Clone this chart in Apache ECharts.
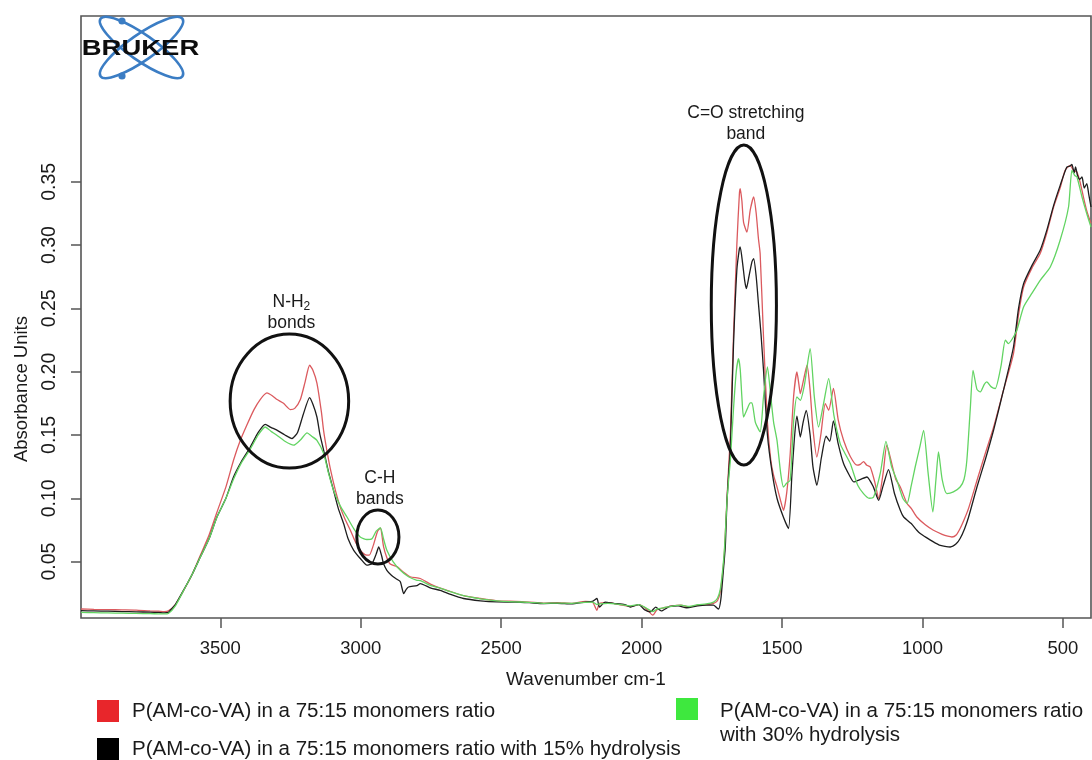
<!DOCTYPE html>
<html>
<head>
<meta charset="utf-8">
<title>FTIR spectra of P(AM-co-VA)</title>
<script src="https://cdn.jsdelivr.net/npm/echarts@6/dist/echarts.min.js"></script>
<style>
  html, body { margin: 0; padding: 0; background: #fff; }
  #chart { width: 1092px; height: 760px; }
</style>
</head>
<body>
<div id="chart"></div>
<script>
// Series names (legend entries)
const nameRed = 'P(AM-co-VA) in a 75:15 monomers ratio';
const nameBlack = 'P(AM-co-VA) in a 75:15 monomers ratio with 15% hydrolysis';
const nameGreen = 'P(AM-co-VA) in a 75:15 monomers ratio with 30% hydrolysis';

// Tick values
const wavenumberTicks = [3500, 3000, 2500, 2000, 1500, 1000, 500];
const absorbanceTicks = [0.05, 0.10, 0.15, 0.20, 0.25, 0.30, 0.35];

// Spectra: [wavenumber (cm-1), absorbance]
const spectrumRed = [
  [3996,0.0125],[3950,0.0122],[3900,0.0120],[3850,0.0118],[3800,0.0116],[3750,0.0110],[3720,0.0108],[3700,0.0105],
  [3685,0.0110],[3660,0.016],[3631,0.027],[3600,0.040],[3571,0.055],[3540,0.071],[3512,0.089],[3480,0.109],
  [3453,0.130],[3430,0.145],[3405,0.158],[3380,0.170],[3358,0.178],[3334,0.1832],[3315,0.181],[3298,0.178],
  [3275,0.175],[3251,0.1701],[3235,0.171],[3215,0.178],[3198,0.192],[3182,0.2051],[3170,0.201],[3156,0.191],
  [3140,0.168],[3132,0.153],[3120,0.137],[3108,0.123],[3090,0.106],[3073,0.093],[3055,0.083],[3037,0.0747],
  [3020,0.066],[3002,0.059],[2985,0.0555],[2970,0.055],[2955,0.063],[2940,0.074],[2930,0.0765],[2919,0.062],
  [2907,0.053],[2895,0.048],[2871,0.046],[2850,0.042],[2824,0.038],[2788,0.0366],[2750,0.032],[2717,0.029],
  [2693,0.0273],[2634,0.023],[2574,0.0208],[2515,0.019],[2450,0.0185],[2400,0.018],[2349,0.0172],[2300,0.0175],
  [2250,0.017],[2200,0.0185],[2175,0.018],[2159,0.0115],[2150,0.017],[2120,0.0175],[2080,0.016],[2040,0.0145],
  [2010,0.016],[1985,0.013],[1960,0.0076],[1945,0.012],[1920,0.0135],[1890,0.015],[1860,0.0155],[1830,0.014],
  [1800,0.0155],[1770,0.016],[1744,0.017],[1730,0.019],[1720,0.026],[1712,0.040],[1705,0.058],[1696,0.100],
  [1690,0.125],[1684,0.150],[1673,0.2274],[1661,0.300],[1652,0.340],[1649,0.3446],[1643,0.335],[1637,0.318],
  [1625,0.3103],[1613,0.328],[1601,0.338],[1592,0.325],[1584,0.305],[1578,0.2933],[1566,0.2274],[1552,0.160],
  [1540,0.130],[1530,0.118],[1518,0.109],[1505,0.098],[1495,0.0905],[1483,0.105],[1471,0.135],[1459,0.180],
  [1447,0.1998],[1440,0.190],[1435,0.1827],[1425,0.192],[1411,0.2051],[1400,0.185],[1390,0.155],[1376,0.1326],
  [1362,0.150],[1346,0.1748],[1334,0.1695],[1317,0.1867],[1300,0.162],[1281,0.1458],[1257,0.133],[1233,0.1261],
  [1220,0.127],[1210,0.129],[1198,0.126],[1186,0.1247],[1170,0.113],[1156,0.0998],[1140,0.120],[1127,0.1419],
  [1110,0.128],[1095,0.115],[1079,0.1089],[1055,0.0958],[1040,0.092],[1020,0.0852],[990,0.079],[961,0.0747],
  [930,0.0715],[910,0.070],[895,0.0694],[880,0.071],[866,0.0761],[850,0.084],[836,0.092],[806,0.114],
  [777,0.135],[747,0.156],[712,0.185],[676,0.2143],[658,0.245],[640,0.2669],[610,0.282],[581,0.2933],
  [557,0.310],[533,0.3301],[510,0.345],[492,0.3591],[474,0.363],[462,0.359],[450,0.3577],[438,0.349],
  [427,0.338],[415,0.327],[400,0.317]
];

const spectrumBlack = [
  [3996,0.0112],[3950,0.0110],[3900,0.0108],[3850,0.0105],[3800,0.0103],[3750,0.0100],[3720,0.0098],[3700,0.0095],
  [3685,0.0098],[3678,0.0115],[3660,0.016],[3631,0.0273],[3600,0.040],[3571,0.0536],[3540,0.068],[3512,0.0852],
  [3480,0.100],[3453,0.1168],[3425,0.129],[3393,0.1405],[3365,0.152],[3340,0.1584],[3320,0.156],[3300,0.154],
  [3270,0.150],[3245,0.1472],[3225,0.152],[3205,0.166],[3182,0.1795],[3170,0.174],[3156,0.1642],[3145,0.150],
  [3132,0.1379],[3115,0.121],[3097,0.1063],[3080,0.092],[3061,0.080],[3045,0.068],[3025,0.0589],[3000,0.052],
  [2978,0.0471],[2960,0.0484],[2945,0.056],[2936,0.0615],[2925,0.054],[2919,0.0484],[2907,0.0431],[2890,0.039],
  [2871,0.036],[2859,0.034],[2847,0.0247],[2838,0.028],[2830,0.0299],[2800,0.031],[2788,0.0326],[2750,0.029],
  [2717,0.0273],[2680,0.024],[2634,0.0208],[2574,0.019],[2515,0.0181],[2450,0.018],[2400,0.0175],[2349,0.0168],
  [2300,0.017],[2250,0.0165],[2200,0.018],[2175,0.0185],[2159,0.0208],[2150,0.014],[2130,0.018],[2100,0.017],
  [2060,0.016],[2040,0.0141],[2010,0.016],[1990,0.012],[1969,0.0102],[1950,0.014],[1930,0.011],[1900,0.0145],
  [1870,0.015],[1840,0.0135],[1800,0.015],[1770,0.0155],[1744,0.0155],[1735,0.014],[1726,0.0125],[1718,0.020],
  [1710,0.040],[1702,0.062],[1696,0.098],[1690,0.120],[1684,0.140],[1673,0.220],[1661,0.280],[1652,0.297],
  [1649,0.2985],[1640,0.285],[1633,0.272],[1627,0.2656],[1618,0.275],[1607,0.287],[1601,0.2893],[1592,0.275],
  [1584,0.2538],[1575,0.230],[1566,0.2011],[1552,0.150],[1535,0.120],[1518,0.100],[1495,0.085],[1477,0.0761],
  [1465,0.118],[1455,0.150],[1447,0.1648],[1440,0.155],[1435,0.1484],[1425,0.160],[1414,0.1695],[1400,0.150],
  [1390,0.125],[1376,0.1103],[1360,0.132],[1343,0.149],[1330,0.145],[1317,0.1611],[1300,0.143],[1281,0.1274],
  [1260,0.118],[1245,0.1129],[1220,0.115],[1198,0.1168],[1175,0.109],[1156,0.0984],[1140,0.110],[1121,0.1227],
  [1100,0.104],[1079,0.0905],[1067,0.0852],[1040,0.080],[1020,0.0747],[1008,0.0721],[990,0.0695],[961,0.0655],
  [940,0.063],[920,0.062],[901,0.0615],[880,0.064],[866,0.0682],[850,0.076],[836,0.085],[806,0.1089],
  [777,0.130],[747,0.1537],[712,0.185],[676,0.2195],[658,0.250],[640,0.2696],[610,0.284],[581,0.2959],
  [557,0.312],[533,0.3314],[510,0.347],[486,0.3617],[474,0.3625],[468,0.3638],[460,0.357],[455,0.3617],
  [448,0.355],[440,0.352],[432,0.3538],[424,0.345],[415,0.3486],[408,0.340],[400,0.3301]
];

const spectrumGreen = [
  [3996,0.0098],[3950,0.0096],[3900,0.0094],[3850,0.0092],[3800,0.0090],[3750,0.0088],[3720,0.0087],[3700,0.0086],
  [3685,0.0090],[3660,0.015],[3631,0.027],[3600,0.040],[3571,0.0536],[3540,0.068],[3512,0.085],[3480,0.100],
  [3453,0.115],[3425,0.128],[3393,0.139],[3365,0.150],[3340,0.1563],[3320,0.153],[3300,0.150],[3270,0.145],
  [3239,0.1419],[3215,0.146],[3191,0.1516],[3175,0.149],[3156,0.1458],[3132,0.1353],[3115,0.120],[3097,0.1063],
  [3073,0.094],[3049,0.0852],[3025,0.076],[3002,0.0694],[2978,0.0674],[2960,0.068],[2945,0.074],[2930,0.0765],
  [2919,0.068],[2907,0.0589],[2885,0.050],[2859,0.0431],[2830,0.038],[2800,0.0352],[2788,0.035],[2750,0.031],
  [2717,0.029],[2693,0.027],[2634,0.023],[2574,0.0205],[2515,0.019],[2450,0.0182],[2400,0.0178],[2349,0.017],
  [2300,0.0172],[2250,0.017],[2200,0.0178],[2175,0.018],[2159,0.016],[2150,0.0165],[2120,0.017],[2080,0.0162],
  [2040,0.015],[2010,0.016],[1985,0.0135],[1960,0.0105],[1945,0.0125],[1920,0.0135],[1890,0.0148],[1860,0.0155],
  [1830,0.0145],[1800,0.016],[1770,0.0165],[1744,0.018],[1730,0.021],[1720,0.028],[1712,0.042],[1705,0.060],
  [1696,0.098],[1690,0.115],[1684,0.130],[1673,0.170],[1663,0.200],[1655,0.2103],[1649,0.202],[1643,0.180],
  [1637,0.1642],[1625,0.170],[1613,0.1753],[1607,0.1753],[1595,0.160],[1578,0.1524],[1566,0.180],[1552,0.2037],
  [1540,0.180],[1530,0.160],[1518,0.1458],[1505,0.120],[1495,0.1089],[1483,0.112],[1471,0.1142],[1459,0.160],
  [1447,0.180],[1435,0.1774],[1420,0.190],[1400,0.2182],[1385,0.180],[1370,0.1563],[1352,0.175],[1334,0.1945],
  [1315,0.165],[1293,0.1432],[1275,0.135],[1257,0.1274],[1230,0.110],[1210,0.1037],[1190,0.100],[1174,0.101],
  [1150,0.120],[1130,0.145],[1110,0.125],[1091,0.1142],[1070,0.100],[1055,0.0958],[1040,0.110],[1026,0.1247],
  [1010,0.140],[996,0.1537],[980,0.120],[963,0.0892],[952,0.115],[943,0.1366],[930,0.115],[913,0.1037],
  [890,0.105],[866,0.1089],[852,0.115],[842,0.130],[830,0.170],[820,0.2011],[806,0.186],[794,0.184],
  [780,0.190],[771,0.1919],[755,0.188],[741,0.1867],[720,0.205],[705,0.2249],[694,0.2222],[680,0.226],
  [664,0.2327],[640,0.2511],[610,0.262],[581,0.2722],[545,0.2827],[510,0.3038],[480,0.3301],[468,0.3591],
  [458,0.355],[450,0.3538],[432,0.338],[415,0.3248],[400,0.3143]
];

// Band annotations: [centre wavenumber, centre absorbance, half-width (cm-1), half-height (absorbance)]
const bandRegions = [
  [3254, 0.1768, 211, 0.0529],
  [2939, 0.0694, 75, 0.0213],
  [1636, 0.2526, 116, 0.1264]
];
const bandLabels = ['N-H{sub|2}\nbonds', 'C-H\nbands', 'C=O stretching\nband'];

const FONT = 'Arial, "Liberation Sans", Helvetica, sans-serif';

const chart = echarts.init(document.getElementById('chart'), null, { renderer: 'canvas' });

function lineSeries(name, data, swatch, stroke) {
  return {
    name: name,
    type: 'line',
    data: data,
    showSymbol: false,
    symbol: 'none',
    smooth: 0.2,
    itemStyle: { color: swatch },
    lineStyle: { color: stroke, width: 1.3 },
    emphasis: { disabled: true },
    animation: false
  };
}

const legendBase = {
  orient: 'vertical',
  icon: 'rect',
  itemWidth: 22,
  itemHeight: 22,
  padding: 0,
  selectedMode: false,
  itemStyle: { borderWidth: 0 },
  textStyle: { fontFamily: FONT, fontSize: 20.5, color: '#1a1a1a', padding: [0, 0, 0, 8] }
};

chart.setOption({
  backgroundColor: '#ffffff',
  animation: false,
  grid: {
    left: 81, top: 16, right: 1, bottom: 142,
    containLabel: false,
    outerBoundsMode: 'none',
    show: true,
    borderColor: '#555',
    borderWidth: 1.6,
    backgroundColor: 'transparent'
  },
  xAxis: {
    type: 'value',
    min: 400,
    max: 3996,
    inverse: true,
    name: 'Wavenumber cm-1',
    nameLocation: 'middle',
    nameGap: 52,
    nameTextStyle: { fontFamily: FONT, fontSize: 19, color: '#1a1a1a' },
    axisLine: { show: false },
    splitLine: { show: false },
    axisTick: { show: true, length: 10, customValues: wavenumberTicks, lineStyle: { color: '#555', width: 1.5 } },
    axisLabel: {
      customValues: wavenumberTicks, margin: 21, fontFamily: FONT, fontSize: 18.5, color: '#1a1a1a',
      formatter: function (v) { return String(v); }
    }
  },
  yAxis: {
    type: 'value',
    min: 0.0054,
    max: 0.481,
    axisLine: { show: false },
    splitLine: { show: false },
    axisTick: { show: true, length: 10, customValues: absorbanceTicks, lineStyle: { color: '#555', width: 1.5 } },
    axisLabel: {
      customValues: absorbanceTicks,
      rotate: 90,
      margin: 21,
      fontFamily: FONT,
      fontSize: 19.5,
      color: '#1a1a1a',
      formatter: function (v) { return v.toFixed(2); }
    }
  },
  legend: [
    Object.assign({}, legendBase, { data: [nameRed], left: 97, top: 700 }),
    Object.assign({}, legendBase, { data: [nameBlack], left: 97, top: 738 }),
    Object.assign({}, legendBase, {
      data: [nameGreen], left: 676, top: 671,
      formatter: function () { return '{t|P(AM-co-VA) in a 75:15 monomers ratio}\n{t|with 30% hydrolysis}'; },
      textStyle: {
        fontFamily: FONT, fontSize: 20.5, lineHeight: 24, color: '#1a1a1a', padding: [28, 0, 0, 17],
        rich: { t: { fontFamily: FONT, fontSize: 20.5, lineHeight: 24, color: '#1a1a1a' } }
      }
    })
  ],
  graphic: [
    // axis title on the left
    {
      type: 'text',
      x: 21.5, y: 389,
      rotation: Math.PI / 2,
      style: { text: 'Absorbance Units', fontFamily: FONT, fontSize: 18.5, fill: '#1a1a1a', align: 'center', verticalAlign: 'middle' }
    },
    // instrument logo
    {
      type: 'group',
      x: 141.5, y: 47.5,
      children: [
        { type: 'ellipse', rotation: -0.61, shape: { cx: 0, cy: 0, rx: 50, ry: 13 }, style: { fill: 'none', stroke: '#3b7dc4', lineWidth: 2.6 } },
        { type: 'ellipse', rotation: 0.61, shape: { cx: 0, cy: 0, rx: 50, ry: 13 }, style: { fill: 'none', stroke: '#3b7dc4', lineWidth: 2.6 } },
        { type: 'circle', shape: { cx: -19.5, cy: -26.5, r: 3.6 }, style: { fill: '#3b7dc4' } },
        { type: 'circle', shape: { cx: -19.5, cy: 28.5, r: 3.6 }, style: { fill: '#3b7dc4' } },
        {
          type: 'text', x: -1, y: 1, scaleX: 1.22,
          style: { text: 'BRUKER', fontFamily: FONT, fontWeight: 900, fontSize: 22.5, fill: '#0d0d0d', align: 'center', verticalAlign: 'middle' }
        }
      ]
    }
  ],
  series: [
    lineSeries(nameRed, spectrumRed, '#e8262b', '#db5a5e'),
    lineSeries(nameBlack, spectrumBlack, '#000000', '#1e1e1e'),
    lineSeries(nameGreen, spectrumGreen, '#3ee83e', '#62d462'),
    {
      type: 'custom',
      name: 'bands',
      data: bandRegions,
      clip: false,
      silent: true,
      z: 5,
      renderItem: function (params, api) {
        const c = api.coord([api.value(0), api.value(1)]);
        const s = api.size([api.value(2), api.value(3)]);
        return {
          type: 'group',
          children: [
            {
              type: 'ellipse',
              shape: { cx: c[0], cy: c[1], rx: s[0], ry: s[1] },
              style: { fill: 'none', stroke: '#111', lineWidth: 3 }
            },
            {
              type: 'text',
              x: c[0] + 2, y: c[1] - s[1] - 1,
              style: {
                text: bandLabels[params.dataIndex],
                fontFamily: FONT, fontSize: 17.5, lineHeight: 20.5, fill: '#1a1a1a',
                align: 'center', verticalAlign: 'bottom',
                rich: { sub: { fontFamily: FONT, fontSize: 12, lineHeight: 14, verticalAlign: 'bottom', fill: '#1a1a1a' } }
              }
            }
          ]
        };
      }
    }
  ]
});
</script>
</body>
</html>
